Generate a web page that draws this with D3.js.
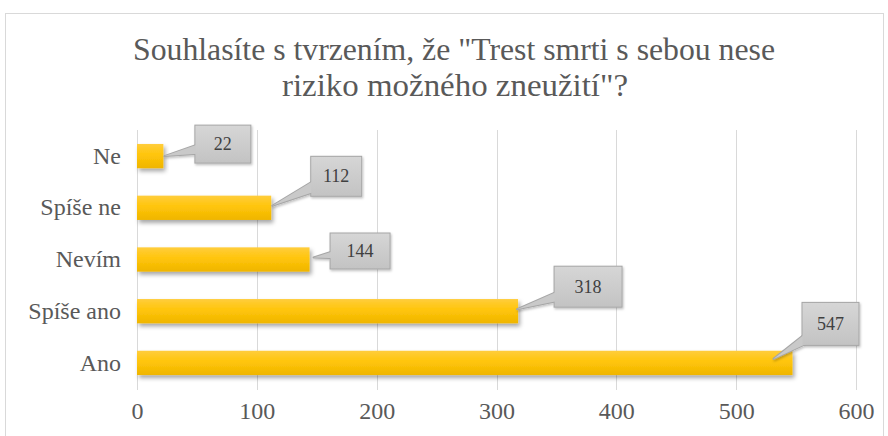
<!DOCTYPE html>
<html><head><meta charset="utf-8">
<script src="https://cdn.jsdelivr.net/npm/d3@7"></script>
<style>body{margin:0;background:#fff}svg{display:block}</style>
</head><body><svg id="c" width="888" height="436" style="font-family:'Liberation Serif'"></svg>
<script>
const title1 = 'Souhlasíte s tvrzením, že "Trest smrti s sebou nese';
const title2 = 'riziko možného zneužití"?';
const categories = ["Ne", "Spíše ne", "Nevím", "Spíše ano", "Ano"];
const values = [22, 112, 144, 318, 547];
const tickValues = [0, 100, 200, 300, 400, 500, 600];
// callout layout (relative to bar end / bar centre)
const calloutLayout = [
  {dx: 59.5, dy: -12, w: 55, h: 37, tx: 1, ty: 0},
  {dx: 65, dy: -31.5, w: 50, h: 39, tx: 1, ty: -2},
  {dx: 50.5, dy: -8.5, w: 59, h: 35, tx: 4, ty: -2},
  {dx: 70, dy: -24.5, w: 67, h: 40, tx: -1, ty: -2},
  {dx: 38, dy: -39, w: 56, h: 42, tx: -19, ty: -4}
];
const FONT = '"Liberation Serif"';

const svg = d3.select("#c");
const defs = svg.append("defs");
const bg = defs.append("linearGradient").attr("id","barg").attr("x1",0).attr("y1",0).attr("x2",0).attr("y2",1);
bg.append("stop").attr("offset","0%").attr("stop-color","#ffcd3c");
bg.append("stop").attr("offset","45%").attr("stop-color","#ffc50a");
bg.append("stop").attr("offset","100%").attr("stop-color","#efb500");
const lg = defs.append("linearGradient").attr("id","lblg").attr("x1",0).attr("y1",0).attr("x2",0).attr("y2",1);
lg.append("stop").attr("offset","0%").attr("stop-color","#d6d6d6");
lg.append("stop").attr("offset","100%").attr("stop-color","#c3c3c3");
const sh = defs.append("filter").attr("id","sh").attr("x","-10%").attr("y","-40%").attr("width","130%").attr("height","200%");
sh.append("feDropShadow").attr("dx",2).attr("dy",3).attr("stdDeviation",2).attr("flood-color","#000").attr("flood-opacity",0.35);
const sh2 = defs.append("filter").attr("id","sh2").attr("x","-30%").attr("y","-30%").attr("width","160%").attr("height","160%");
sh2.append("feDropShadow").attr("dx",1).attr("dy",1.5).attr("stdDeviation",1.2).attr("flood-color","#000").attr("flood-opacity",0.25);

// chart border
svg.append("rect").attr("x",5.5).attr("y",13.5).attr("width",878).attr("height",440)
  .attr("fill","#fff").attr("stroke","#d9d9d9");

// title
svg.append("text").attr("x",454).attr("y",60).attr("text-anchor","middle")
  .style("font-family",FONT).style("font-size","32px").attr("fill","#595959")
  .attr("textLength",642).attr("lengthAdjust","spacingAndGlyphs").text(title1);
svg.append("text").attr("x",455).attr("y",96).attr("text-anchor","middle")
  .style("font-family",FONT).style("font-size","32px").attr("fill","#595959")
  .attr("textLength",346).attr("lengthAdjust","spacingAndGlyphs").text(title2);

const x = d3.scaleLinear().domain([0,600]).range([137,856]);
const y = d3.scaleBand().domain(categories).range([130,389]).paddingInner(0.53).paddingOuter(0.27);

// gridlines
svg.append("g").selectAll("line").data(tickValues).join("line")
  .attr("x1",d=>Math.round(x(d))+0.5).attr("x2",d=>Math.round(x(d))+0.5)
  .attr("y1",130).attr("y2",390).attr("stroke","#d9d9d9").attr("stroke-width",1);

// x axis
const xa = svg.append("g").attr("transform","translate(0,390)")
  .call(d3.axisBottom(x).tickValues(tickValues).tickSize(0).tickPadding(12));
xa.attr("font-family",null).attr("font-size",null);
xa.select(".domain").remove();
xa.selectAll("text").style("font-family",FONT).style("font-size","24px").attr("fill","#595959");

// y axis
const ya = svg.append("g").attr("transform","translate(137,0)")
  .call(d3.axisLeft(y).tickSize(0).tickPadding(16));
ya.attr("font-family",null).attr("font-size",null);
ya.select(".domain").remove();
ya.selectAll("text").style("font-family",FONT).style("font-size","24px").attr("fill","#595959");

// bars
const data = categories.map((c,i)=>({c, v: values[i], L: calloutLayout[i]}));
svg.append("g").selectAll("rect").data(data).join("rect")
  .attr("x",x(0)).attr("y",d=>y(d.c)).attr("width",d=>x(d.v)-x(0)).attr("height",y.bandwidth())
  .attr("fill","url(#barg)").attr("filter","url(#sh)");

// callouts
const cg = svg.append("g").selectAll("g").data(data).join("g");
cg.each(function(d){
  const g = d3.select(this);
  const ex = x(d.v), ey = y(d.c) + y.bandwidth()/2;
  const cx = ex + d.L.dx, cy = ey + d.L.dy;
  const tx = ex + d.L.tx, ty = ey + d.L.ty;
  const ang = Math.atan2(ty-cy, tx-cx);
  const px = -Math.sin(ang)*8, py = Math.cos(ang)*8;
  const wedge = `M${tx},${ty}L${cx+px},${cy+py}L${cx-px},${cy-py}Z`;
  const bx = cx - d.L.w/2, by = cy - d.L.h/2;
  const sg = g.append("g").attr("filter","url(#sh2)");
  sg.append("path").attr("d",wedge).attr("fill","#a6a6a6").attr("stroke","#a6a6a6").attr("stroke-width",2).attr("stroke-linejoin","round");
  sg.append("rect").attr("x",bx).attr("y",by).attr("width",d.L.w).attr("height",d.L.h)
    .attr("fill","#a6a6a6").attr("stroke","#a6a6a6").attr("stroke-width",2);
  sg.append("path").attr("d",wedge).attr("fill","#c9c9c9");
  sg.append("rect").attr("x",bx).attr("y",by).attr("width",d.L.w).attr("height",d.L.h).attr("fill","url(#lblg)");
  g.append("text").attr("x",cx).attr("y",cy+6).attr("text-anchor","middle")
    .style("font-family",FONT).style("font-size","18px").attr("fill","#404040").text(d.v);
});
</script></body></html>
